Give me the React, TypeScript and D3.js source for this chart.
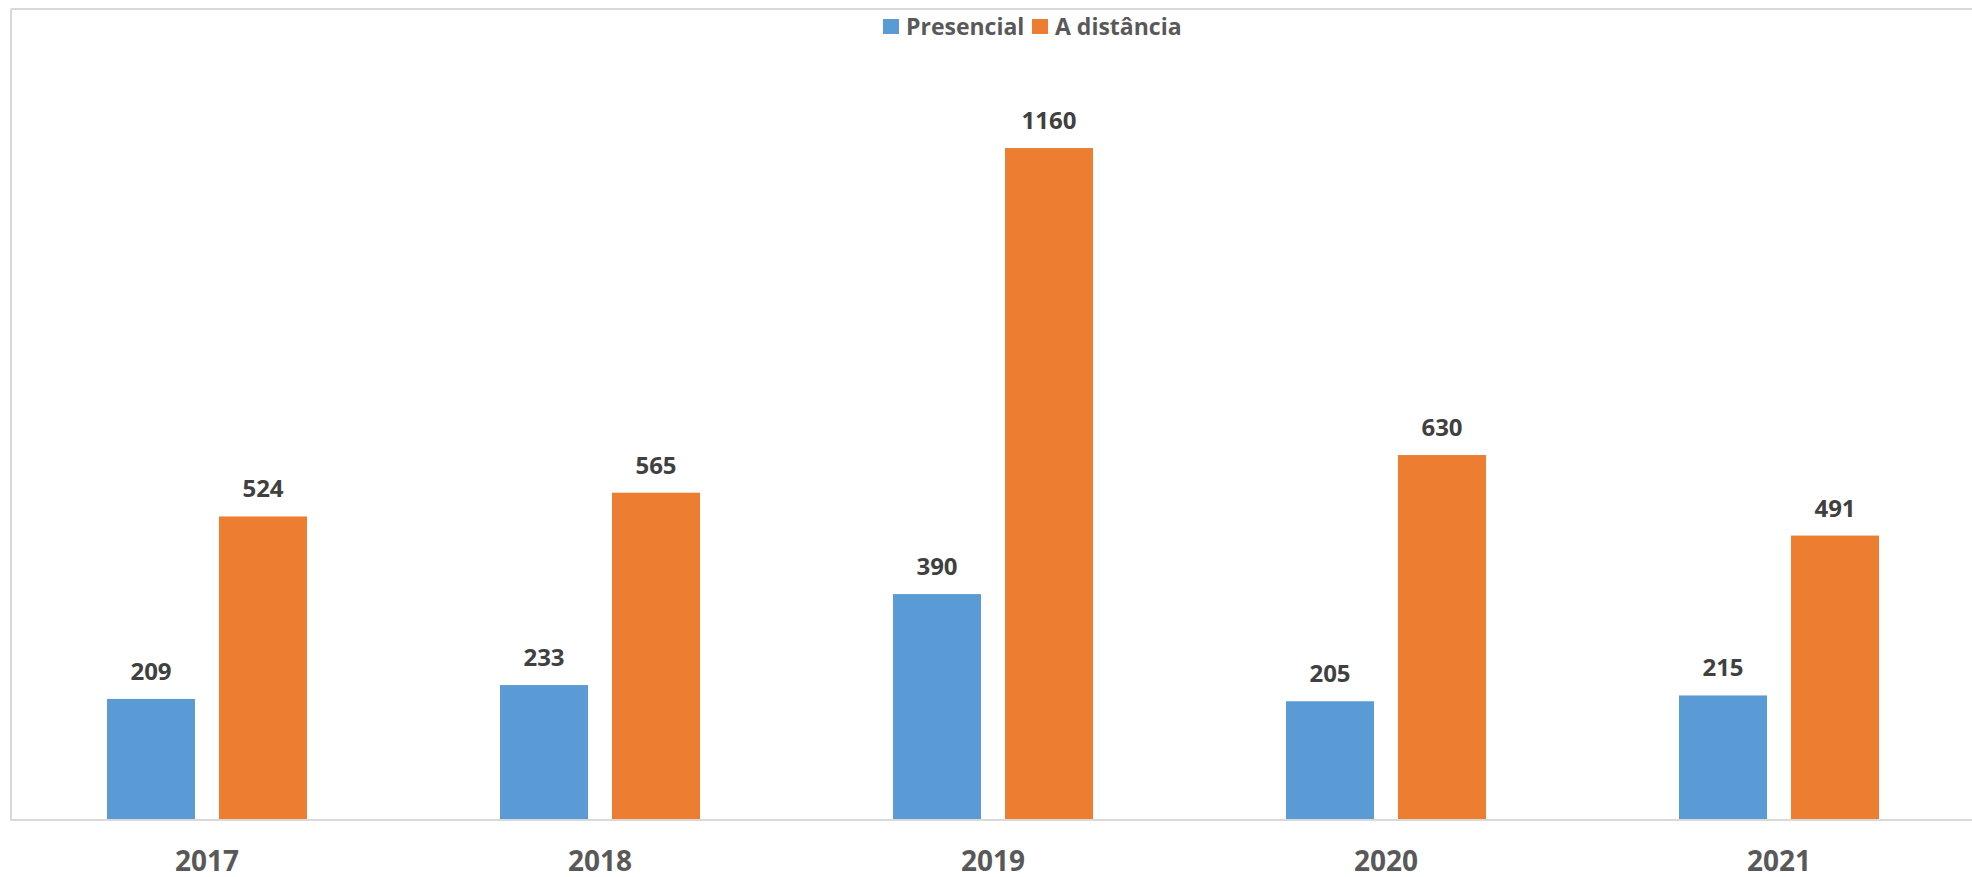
import React from "react";
import * as d3 from "d3";

const years = ["2017", "2018", "2019", "2020", "2021"];
const seriesNames = ["Presencial", "A distância"];
const presencial = [209, 233, 390, 205, 215];
const distancia = [524, 565, 1160, 630, 491];
const colors = ["#5B9BD5", "#ED7D31"];

const W = 1972;
const H = 877;
const FONT = "'Open Sans', 'DejaVu Sans', sans-serif";

export default function App() {
  const left = 10.5;
  const step = 393;
  const x0 = d3.scaleBand<string>().domain(years).range([left, left + step * years.length]).padding(0);
  const groupW = 200;
  const x1 = d3.scaleBand<string>().domain(seriesNames).range([0, groupW]).paddingInner(0.2143).paddingOuter(0);
  const y = d3.scaleLinear().domain([0, 1400]).range([820, 9]);
  const values = [presencial, distancia];

  return (
    <svg width={W} height={H} style={{ position: "absolute", left: 0, top: 0, background: "#fff" }} fontFamily={FONT}>
      <rect x={0} y={0} width={W} height={H} fill="#fff" />
      {/* chart border (top and left) */}
      <line x1={11} y1={9} x2={W} y2={9} stroke="#d9d9d9" strokeWidth={2} />
      <line x1={11} y1={9} x2={11} y2={820} stroke="#d9d9d9" strokeWidth={2} />
      {/* legend */}
      <g>
        <rect x={883} y={19} width={16} height={15} fill={colors[0]} />
        <text x={906} y={35} fontSize={23} fontWeight="bold" fill="#595959">{seriesNames[0]}</text>
        <rect x={1032} y={19} width={16} height={15} fill={colors[1]} />
        <text x={1055} y={35} fontSize={23} fontWeight="bold" fill="#595959">{seriesNames[1]}</text>
      </g>
      {years.map((yr, i) => {
        const gx = (x0(yr) as number) + (x0.bandwidth() - groupW) / 2;
        return (
          <g key={yr}>
            {seriesNames.map((s, j) => {
              const v = values[j][i];
              const bx = gx + (x1(s) as number);
              const by = y(v);
              return (
                <g key={s}>
                  <rect x={bx} y={by} width={x1.bandwidth()} height={y(0) - by} fill={colors[j]} />
                  <text x={bx + x1.bandwidth() / 2} y={by - 19} textAnchor="middle" fontSize={24} fontWeight="bold" fill="#404040">{v}</text>
                </g>
              );
            })}
            <text x={(x0(yr) as number) + x0.bandwidth() / 2} y={871} textAnchor="middle" fontSize={28} fontWeight="bold" fill="#595959">{yr}</text>
          </g>
        );
      })}
      {/* baseline */}
      <line x1={10} y1={820} x2={W} y2={820} stroke="#d9d9d9" strokeWidth={2} />
    </svg>
  );
}
